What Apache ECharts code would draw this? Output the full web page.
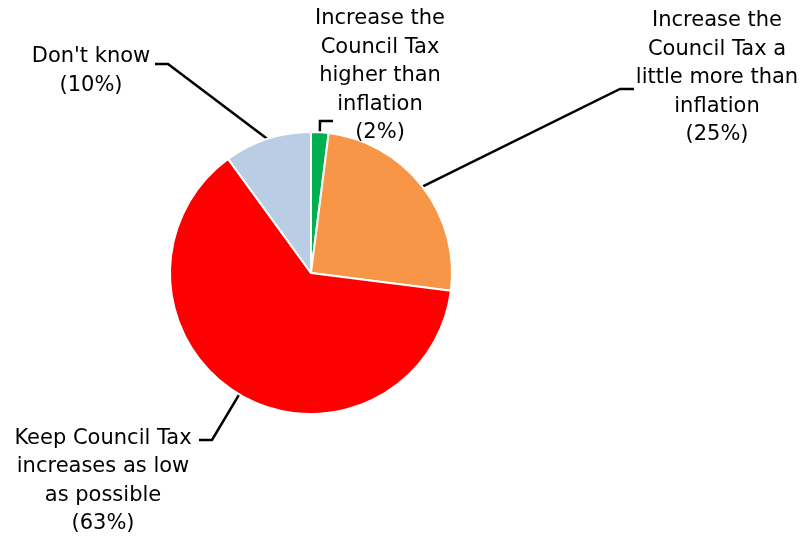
<!DOCTYPE html>
<html>
<head>
<meta charset="utf-8">
<script src="https://cdn.jsdelivr.net/npm/echarts@6/dist/echarts.min.js"></script>
<style>
  html, body { margin: 0; padding: 0; background: #ffffff; }
  #chart { width: 801px; height: 540px; }
</style>
</head>
<body>
<div id="chart"></div>
<script>
// Survey answers, in clockwise order from 12 o'clock
const categories = [
  'Increase the\nCouncil Tax\nhigher than\ninflation',
  'Increase the\nCouncil Tax a\nlittle more than\ninflation',
  'Keep Council Tax\nincreases as low\nas possible',
  "Don't know"
];
const values = [2, 25, 63, 10];
const colors = ['#00B050', '#F79646', '#FF0000', '#B9CDE5'];

// Label block centres and leader-line elbows (elbow point, end point next to text)
const labelPlacement = [
  { x: 380, y: 76, elbow: [320, 121], end: [333, 121] },
  { x: 717, y: 78, elbow: [620, 89], end: [634, 89] },
  { x: 103, y: 481, elbow: [212, 440], end: [199, 440] },
  { x: 91, y: 71, elbow: [168, 64], end: [155, 64] }
];

const chart = echarts.init(document.getElementById('chart'), null, { renderer: 'canvas' });

chart.setOption({
  backgroundColor: '#ffffff',
  animation: false,
  series: [{
    type: 'pie',
    center: [311, 273],
    radius: 141,
    startAngle: 90,
    clockwise: true,
    avoidLabelOverlap: false,
    data: categories.map((name, i) => ({
      name: name,
      value: values[i],
      itemStyle: { color: colors[i] }
    })),
    itemStyle: { borderColor: '#ffffff', borderWidth: 2 },
    label: {
      show: true,
      position: 'outside',
      formatter: '{b}\n({c}%)',
      fontFamily: 'DejaVu Sans',
      fontSize: 21,
      lineHeight: 28.5,
      color: '#000000',
      align: 'center'
    },
    labelLine: {
      show: true,
      length: 10,
      length2: 10,
      lineStyle: { color: '#000000', width: 2.5 }
    },
    labelLayout: function (params) {
      const p = labelPlacement[params.dataIndex];
      const start = params.labelLinePoints ? params.labelLinePoints[0] : p.elbow;
      return {
        x: p.x,
        y: p.y,
        align: 'center',
        verticalAlign: 'middle',
        labelLinePoints: [start, p.elbow, p.end]
      };
    }
  }]
});
</script>
</body>
</html>
